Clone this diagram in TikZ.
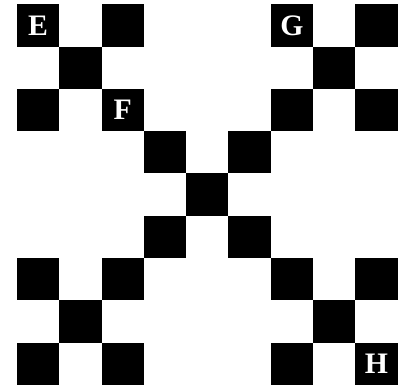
\documentclass[tikz,border=0pt]{standalone}
\usepackage{fontspec}
\setmainfont{Liberation Serif}

\begin{document}
\begin{tikzpicture}[every node/.style={font=\bfseries\fontsize{20}{20}\selectfont},
  cell/.style={fill=black, text=white, minimum size=1cm, inner sep=0pt}]
  \useasboundingbox (-0.4,0) rectangle (9.22,9.1);
  % top left block
  \node[cell] (e) at (0.5,8.5) {E};
  \node[cell] (tl2) at (2.5,8.5) {};
  \node[cell] (tl3) at (1.5,7.5) {};
  \node[cell] (tl4) at (0.5,6.5) {};
  \node[cell] (f) at (2.5,6.5) {F};
  % top right block
  \node[cell] (g) at (6.5,8.5) {G};
  \node[cell] (tr2) at (8.5,8.5) {};
  \node[cell] (tr3) at (7.5,7.5) {};
  \node[cell] (tr4) at (6.5,6.5) {};
  \node[cell] (tr5) at (8.5,6.5) {};
  % centre cross
  \node[cell] (c1) at (3.5,5.5) {};
  \node[cell] (c2) at (5.5,5.5) {};
  \node[cell] (c3) at (4.5,4.5) {};
  \node[cell] (c4) at (3.5,3.5) {};
  \node[cell] (c5) at (5.5,3.5) {};
  % bottom left block
  \node[cell] (bl1) at (0.5,2.5) {};
  \node[cell] (bl2) at (2.5,2.5) {};
  \node[cell] (bl3) at (1.5,1.5) {};
  \node[cell] (bl4) at (0.5,0.5) {};
  \node[cell] (bl5) at (2.5,0.5) {};
  % bottom right block
  \node[cell] (br1) at (6.5,2.5) {};
  \node[cell] (br2) at (8.5,2.5) {};
  \node[cell] (br3) at (7.5,1.5) {};
  \node[cell] (br4) at (6.5,0.5) {};
  \node[cell] (h) at (8.5,0.5) {H};
\end{tikzpicture}
\end{document}
